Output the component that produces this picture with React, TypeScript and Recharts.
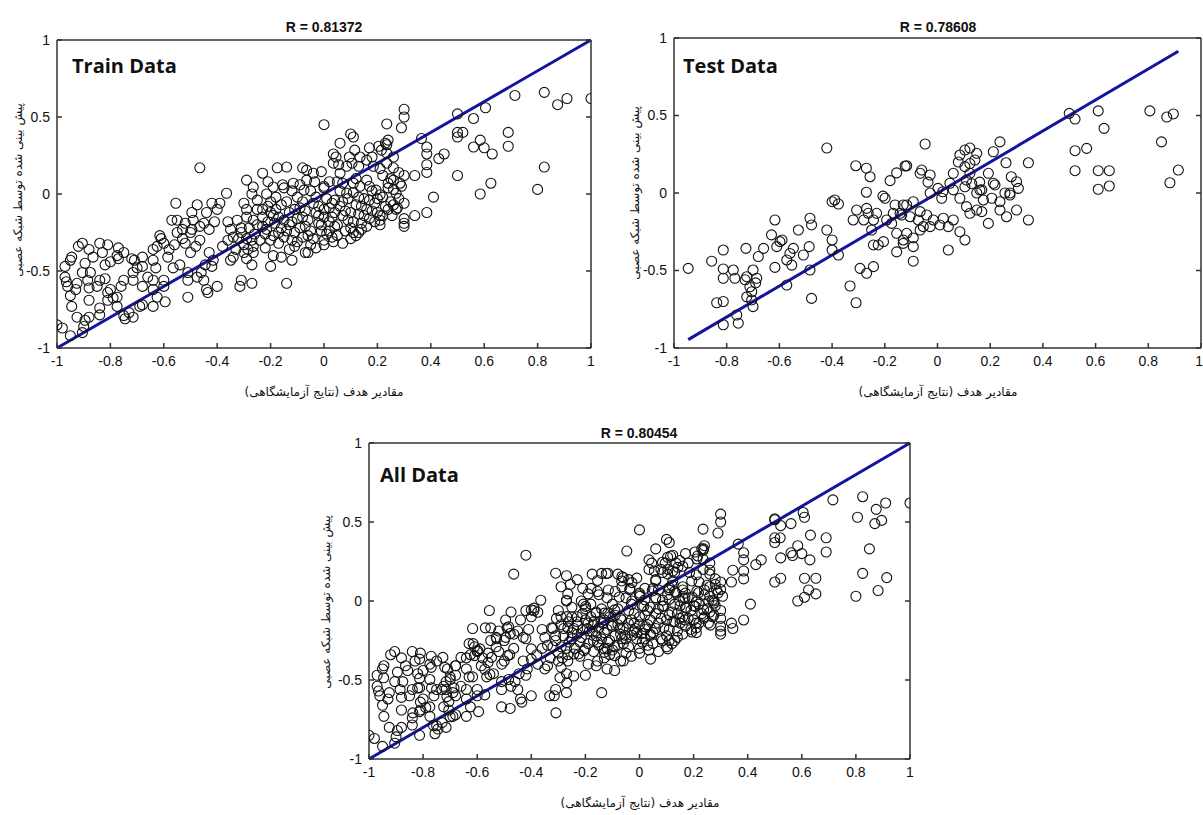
import { ScatterChart, Scatter, XAxis, YAxis, ReferenceLine } from "recharts";

// [target, network output] pairs
const trainPoints: number[][] = [
  [0.0, 0.45], [0.1, 0.39], [0.11, 0.37], [0.06, 0.33], [0.235, 0.455], [0.3, 0.55], [0.3, 0.5], [0.29, 0.43],
  [0.24, 0.35], [0.235, 0.32], [0.5, 0.52], [0.5, 0.4], [0.52, 0.4], [0.5, 0.37], [0.56, 0.49], [0.605, 0.56],
  [0.715, 0.64], [0.825, 0.66], [0.875, 0.58], [0.91, 0.62], [1.0, 0.62], [0.69, 0.4], [0.69, 0.31], [0.56, 0.305],
  [0.585, 0.35], [0.6, 0.3], [0.63, 0.26], [0.825, 0.175], [0.8, 0.03], [0.625, 0.07], [0.585, 0.0], [0.5, 0.12],
  [0.45, 0.26], [0.43, 0.23], [0.385, 0.305], [0.385, 0.26], [0.385, 0.19], [0.385, 0.14], [0.34, 0.12], [0.365, 0.36],
  [0.41, -0.02], [0.26, 0.17], [0.285, 0.07],
  [0.385, -0.12], [0.34, -0.14], [0.3, -0.16], [0.3, -0.19], [0.3, -0.21], [0.255, -0.14], [0.275, -0.09], [0.21, -0.17],
  [0.21, -0.14], [0.14, -0.23], [0.11, -0.25], [0.035, -0.31], [0.0, -0.33], [-0.07, -0.38],
  [-0.365, 0.005], [-0.555, -0.06], [-0.475, -0.07], [-0.495, -0.12], [-0.42, -0.06], [-0.39, -0.06], [-0.4, -0.1],
  [-0.57, -0.17], [-0.55, -0.17], [-0.49, -0.17], [-0.495, -0.23], [-0.44, -0.12], [-0.45, -0.19], [-0.41, -0.18],
  [-0.43, -0.23], [-0.36, -0.18], [-0.35, -0.23], [-0.34, -0.28], [-0.36, -0.3], [-0.38, -0.34], [-0.55, -0.25],
  [-0.53, -0.29], [-0.56, -0.33], [-0.58, -0.36], [-0.585, -0.41], [-0.565, -0.48], [-0.54, -0.46], [-0.615, -0.27],
  [-0.6, -0.32], [-0.625, -0.34], [-0.61, -0.29], [-0.64, -0.36], [-0.64, -0.43], [-0.63, -0.48], [-0.68, -0.41],
  [-0.68, -0.47], [-0.66, -0.54], [-0.64, -0.56], [-0.6, -0.56], [-0.6, -0.6], [-0.64, -0.62], [-0.625, -0.67],
  [-0.68, -0.6], [-0.64, -0.73], [-0.595, -0.7], [-0.72, -0.42], [-0.71, -0.43], [-0.7, -0.48], [-0.715, -0.51],
  [-0.715, -0.56], [-0.75, -0.56], [-0.76, -0.6], [-0.775, -0.67], [-0.775, -0.73], [-0.75, -0.79], [-0.745, -0.81],
  [-0.8, -0.62], [-0.79, -0.675], [-0.81, -0.69], [-0.84, -0.74], [-0.84, -0.785], [-0.77, -0.35], [-0.75, -0.38],
  [-0.775, -0.4], [-0.77, -0.42], [-0.84, -0.32], [-0.81, -0.33], [-0.83, -0.38], [-0.8, -0.44], [-0.82, -0.46],
  [-0.84, -0.56], [-0.85, -0.6], [-0.82, -0.55], [-0.81, -0.64], [-0.88, -0.36], [-0.865, -0.41], [-0.895, -0.45],
  [-0.875, -0.51], [-0.905, -0.51], [-0.885, -0.56], [-0.905, -0.32], [-0.92, -0.34], [-0.945, -0.41], [-0.95, -0.43],
  [-0.97, -0.47], [-0.97, -0.54], [-0.965, -0.57], [-0.96, -0.6], [-0.925, -0.58], [-0.93, -0.62], [-0.88, -0.61],
  [-0.88, -0.69], [-0.95, -0.66], [-0.945, -0.73], [-0.925, -0.8], [-0.895, -0.82], [-0.88, -0.8], [-0.9, -0.86],
  [-0.905, -0.9], [-1.0, -0.85], [-0.98, -0.87], [-0.95, -0.92], [-0.73, -0.77], [-0.715, -0.8], [-0.69, -0.73],
  [-0.68, -0.72], [-0.51, -0.51], [-0.51, -0.56], [-0.51, -0.67], [-0.475, -0.54], [-0.45, -0.56], [-0.44, -0.62],
  [-0.4, -0.6], [-0.435, -0.64], [-0.315, -0.6], [-0.27, -0.58], [-0.31, -0.56], [-0.14, -0.58], [-0.2, -0.47],
  [-0.16, -0.41], [-0.12, -0.43], [-0.29, -0.42], [-0.27, -0.46], [-0.265, -0.38], [-0.265, -0.34], [-0.285, -0.36],
  [-0.3, -0.33], [-0.34, -0.41], [-0.35, -0.43], [-0.32, -0.29], [-0.29, -0.29], [-0.31, -0.25], [-0.325, -0.17],
  [-0.29, -0.15], [-0.29, -0.1], [-0.3, -0.06], [-0.27, 0.0], [-0.25, -0.04], [-0.215, 0.0], [-0.19, 0.045],
  [-0.23, -0.1], [-0.265, -0.17], [-0.23, -0.21], [-0.215, -0.23], [-0.2, -0.12], [-0.185, -0.19], [-0.465, -0.21],
  [-0.465, -0.3], [-0.48, -0.34], [-0.5, -0.38], [-0.52, -0.32], [-0.53, -0.23], [-0.52, -0.19], [-0.5, -0.25],
  [-0.43, -0.38], [-0.415, -0.43], [-0.445, -0.46], [-0.46, -0.51], [-0.42, -0.47],
  [-0.465, 0.17], [-0.29, 0.09], [-0.23, 0.135], [-0.175, 0.17], [-0.14, 0.175], [-0.08, 0.17], [-0.04, 0.135],
  [-0.21, 0.08], [-0.265, 0.045], [-0.155, 0.06], [-0.115, 0.07], [-0.09, 0.06],
  [-0.065, 0.155], [-0.01, 0.145], [-0.065, 0.09], [-0.035, 0.08], [-0.075, 0.025], [0.0, 0.05], [0.02, 0.08],
  [0.035, 0.26], [0.045, 0.24], [0.035, 0.2], [0.055, 0.19], [0.06, 0.135], [0.085, 0.18], [0.105, 0.2], [0.095, 0.24],
  [0.115, 0.285], [0.135, 0.24], [0.13, 0.18], [0.16, 0.22], [0.17, 0.3], [0.205, 0.31], [0.215, 0.285], [0.23, 0.33],
  [0.18, 0.24], [0.185, 0.18], [0.21, 0.165], [0.235, 0.2], [0.26, 0.24], [0.235, 0.265], [0.26, 0.09], [0.24, 0.07],
  [0.16, 0.09], [0.17, 0.05], [0.195, 0.025], [0.07, 0.07], [0.11, 0.07], [0.135, 0.05], [0.085, 0.005], [0.27, 0.005],
  [0.21, -0.005],
  [-0.2, -0.05], [-0.18, -0.1], [-0.17, -0.15], [-0.16, -0.22], [-0.15, -0.28], [-0.14, -0.05], [-0.13, -0.12],
  [-0.12, -0.18], [-0.11, -0.25], [-0.1, -0.31], [-0.1, -0.02], [-0.09, -0.09], [-0.08, -0.15], [-0.07, -0.21],
  [-0.06, -0.27], [-0.05, -0.33], [-0.05, 0.02], [-0.04, -0.06], [-0.03, -0.12], [-0.02, -0.19], [-0.01, -0.24],
  [0.0, -0.3], [0.0, 0.04], [0.01, -0.03], [0.02, -0.09], [0.03, -0.15], [0.04, -0.21], [0.05, -0.27], [0.06, 0.02],
  [0.07, -0.05], [0.08, -0.11], [0.09, -0.17], [0.1, -0.22], [0.1, -0.29], [0.11, 0.01], [0.12, -0.07], [0.13, -0.13],
  [0.14, -0.19], [0.15, -0.03], [0.16, -0.1], [0.17, -0.16], [0.18, 0.02], [0.19, -0.06], [0.2, -0.12], [0.21, -0.2],
  [0.22, -0.02], [0.23, -0.08], [0.24, 0.04], [0.25, -0.05], [0.26, 0.03], [0.27, -0.1], [0.28, -0.03], [0.29, 0.05],
  [0.3, -0.06], [0.3, 0.12], [0.28, 0.14], [0.25, 0.1], [0.22, 0.12], [-0.19, -0.27], [-0.17, -0.32], [-0.13, -0.36],
  [-0.08, -0.28], [-0.12, 0.02], [-0.15, 0.04], [-0.21, -0.18], [-0.2, -0.3], [-0.06, -0.38], [0.02, -0.24],
  [0.07, -0.32], [0.13, -0.25], [0.05, 0.08], [0.12, 0.1], [-0.02, -0.08], [0.0, -0.15], [0.04, -0.04],
  [-0.28, -0.22], [-0.26, -0.26], [-0.24, -0.3], [-0.22, -0.26], [-0.25, -0.2], [-0.3, -0.38], [-0.22, -0.35],
  [-0.19, -0.4], [-0.33, -0.36], [-0.31, -0.22],
  [-0.18, -0.02], [-0.16, -0.07], [-0.15, -0.17], [-0.14, -0.24], [-0.12, -0.3], [-0.11, -0.1], [-0.1, -0.16],
  [-0.09, -0.22], [-0.08, -0.05], [-0.07, -0.11], [-0.06, -0.17], [-0.05, -0.24], [-0.04, -0.29], [-0.03, -0.02],
  [-0.02, -0.14], [-0.01, -0.2], [0.0, -0.1], [0.01, -0.26], [0.02, -0.18], [0.03, -0.06], [0.04, -0.12],
  [0.05, -0.2], [0.06, -0.08], [0.07, -0.14], [0.08, -0.24], [0.09, -0.03], [0.1, -0.12], [0.11, -0.18],
  [0.12, -0.27], [0.13, -0.02], [0.14, -0.08], [0.15, -0.14], [0.16, -0.21], [0.17, -0.04], [0.18, -0.11],
  [0.19, -0.18], [0.2, -0.03], [0.22, -0.14], [0.24, -0.1], [0.26, -0.07], [-0.13, -0.2], [-0.17, -0.25],
  [-0.19, -0.14], [-0.21, -0.08], [-0.23, -0.15], [-0.25, -0.1], [-0.27, -0.3], [-0.11, -0.34], [-0.03, -0.35],
  [0.03, -0.28],
];

const testPoints: number[][] = [
  [-0.42, 0.29], [-0.31, 0.176], [-0.27, 0.16], [-0.256, 0.105], [-0.27, 0.005], [-0.207, -0.02], [-0.18, 0.08],
  [-0.155, 0.13], [-0.123, 0.174], [-0.39, -0.045],
  [-0.117, 0.176], [-0.047, 0.316], [-0.066, 0.127], [-0.028, 0.116], [-0.06, 0.148], [-0.036, 0.07], [0.002, 0.03],
  [0.02, 0.008], [-0.028, 0.0], [0.06, 0.127], [0.104, 0.17], [0.123, 0.127], [0.11, 0.084], [0.13, 0.06],
  [0.16, 0.07], [0.193, 0.127], [0.085, 0.245], [0.104, 0.277], [0.123, 0.29], [0.149, 0.256], [0.142, 0.213],
  [0.123, 0.19], [0.079, 0.2], [0.237, 0.33], [0.212, 0.266], [0.26, 0.195], [0.28, 0.105], [0.3, 0.073],
  [0.168, 0.02], [0.212, 0.063], [0.345, 0.195], [0.275, 0.0], [0.256, 0.0], [0.149, 0.0], [0.06, 0.02],
  [0.5, 0.514], [0.522, 0.477], [0.61, 0.53], [0.632, 0.417], [0.522, 0.273], [0.566, 0.288], [0.522, 0.144],
  [0.61, 0.144], [0.652, 0.144], [0.61, 0.024], [0.652, 0.045], [0.806, 0.53], [0.87, 0.49], [0.895, 0.51],
  [0.85, 0.33], [0.914, 0.148], [0.882, 0.066],
  [-0.117, -0.077], [-0.092, -0.056], [-0.142, -0.131], [-0.104, -0.153], [-0.066, -0.12], [-0.041, -0.142],
  [-0.073, -0.174], [-0.028, -0.217], [-0.066, -0.239], [-0.117, -0.26], [-0.092, -0.29], [-0.13, -0.325],
  [-0.092, -0.346], [-0.054, -0.217], [-0.016, -0.174], [0.009, -0.206], [0.022, -0.163], [0.06, -0.174],
  [0.041, -0.217], [0.085, -0.25], [0.104, -0.303], [0.041, -0.368], [-0.092, -0.44],
  [0.085, -0.034], [0.11, -0.088], [0.123, -0.131], [0.149, -0.11], [0.168, -0.12], [0.174, -0.045], [0.161, 0.019],
  [0.218, 0.052], [0.206, -0.034], [0.237, -0.056], [0.237, -0.11], [0.262, -0.153], [0.275, -0.013], [0.307, 0.03],
  [0.3, -0.11], [0.193, -0.196], [0.345, -0.174], [0.104, 0.04], [0.047, 0.063], [0.016, -0.034],
  [-0.946, -0.486], [-0.857, -0.44], [-0.813, -0.368], [-0.813, -0.49], [-0.813, -0.55], [-0.775, -0.497],
  [-0.769, -0.55], [-0.724, -0.54], [-0.73, -0.56], [-0.7, -0.497], [-0.686, -0.55], [-0.69, -0.58], [-0.712, -0.605],
  [-0.705, -0.637], [-0.838, -0.708], [-0.813, -0.7], [-0.813, -0.85], [-0.762, -0.787], [-0.756, -0.84],
  [-0.724, -0.67], [-0.705, -0.69], [-0.7, -0.733], [-0.727, -0.357], [-0.68, -0.41], [-0.66, -0.357], [-0.617, -0.48],
  [-0.617, -0.174], [-0.63, -0.27], [-0.598, -0.314], [-0.59, -0.303], [-0.61, -0.346], [-0.56, -0.39],
  [-0.572, -0.432], [-0.547, -0.357], [-0.553, -0.465], [-0.528, -0.239], [-0.484, -0.163], [-0.478, -0.206],
  [-0.509, -0.4], [-0.484, -0.497], [-0.487, -0.346], [-0.478, -0.68], [-0.572, -0.594],
  [-0.42, -0.239], [-0.4, -0.303], [-0.4, -0.368], [-0.376, -0.4], [-0.4, -0.056], [-0.376, -0.071],
  [-0.332, -0.6], [-0.309, -0.708], [-0.294, -0.486], [-0.269, -0.518], [-0.243, -0.475],
  [-0.307, -0.11], [-0.32, -0.174], [-0.28, -0.174], [-0.269, -0.099], [-0.263, -0.131], [-0.243, -0.174],
  [-0.231, -0.131], [-0.25, -0.239], [-0.243, -0.335], [-0.225, -0.335], [-0.205, -0.314], [-0.193, -0.174],
  [-0.168, -0.131], [-0.161, -0.077], [-0.174, -0.196], [-0.155, -0.26], [-0.199, -0.034], [-0.13, -0.077],
  [-0.136, -0.142], [-0.13, -0.303], [-0.155, -0.38],
];

const allPoints = [...trainPoints, ...testPoints];

const xTicks = [-1, -0.8, -0.6, -0.4, -0.2, 0, 0.2, 0.4, 0.6, 0.8, 1];
const yTicks = [-1, -0.5, 0, 0.5, 1];

const xTitle = "مقادیر هدف (نتایج آزمایشگاهی)";
const yTitle = "پیش بینی شده توسط شبکه عصبی";

const tickFamily = "'Liberation Sans Narrow','Liberation Sans',Arial,sans-serif";
const tickFont = { fill: "#111", fontSize: 14, fontFamily: tickFamily };
const axisColor = "#333";
const lineColor = "#1414a0";

const Ring = (props: any) => (
  <circle cx={props.cx} cy={props.cy} r={5} fill="none" stroke="#111" strokeWidth={1.1} />
);

// bottom tick label; the last one is right-aligned when the panel reaches the page edge
const makeXTick = (clipRight: boolean) => (props: any) => {
  const { x, y, payload } = props;
  const last = clipRight && payload.value === 1;
  return (
    <text x={last ? x + 2 : x} y={y} dy="0.71em" textAnchor={last ? "end" : "middle"}
      fill="#111" fontSize={14} fontFamily={tickFamily}>
      {String(payload.value)}
    </text>
  );
};

type PanelProps = {
  points: number[][];
  left: number;
  top: number;
  width: number;
  height: number;
  margin: { top: number; right: number; bottom: number; left: number };
  clipRight?: boolean;
};

const Panel = ({ points, left, top, width, height, margin, clipRight = false }: PanelProps) => {
  const data = points.map(([x, y]) => ({ x, y }));
  const xs = points.map((p) => p[0]);
  const lo = Math.min(...xs);
  const hi = Math.max(...xs);
  return (
    <div style={{ position: "absolute", left, top }}>
      <ScatterChart width={width} height={height} margin={margin}>
        <XAxis xAxisId="b" type="number" dataKey="x" domain={[-1, 1]} ticks={xTicks} interval={0}
          allowDataOverflow tickSize={-5} tickMargin={13} height={30} tick={makeXTick(clipRight)}
          stroke={axisColor} strokeWidth={1.5} />
        <XAxis xAxisId="t" orientation="top" mirror type="number" domain={[-1, 1]} ticks={xTicks}
          interval={0} allowDataOverflow tickSize={5} stroke={axisColor} strokeWidth={1.5}
          tickFormatter={() => ""} />
        <YAxis yAxisId="l" type="number" dataKey="y" domain={[-1, 1]} ticks={yTicks} interval={0}
          allowDataOverflow tickSize={-5} tickMargin={12} width={40} tick={tickFont}
          stroke={axisColor} strokeWidth={1.5} tickFormatter={(v) => String(v)} />
        <YAxis yAxisId="r" orientation="right" mirror type="number" domain={[-1, 1]} ticks={yTicks}
          interval={0} allowDataOverflow tickSize={5} stroke={axisColor} strokeWidth={1.5}
          tickFormatter={() => ""} />
        <Scatter data={data} xAxisId="b" yAxisId="l" shape={Ring} isAnimationActive={false} />
        <ReferenceLine xAxisId="b" yAxisId="l" segment={[{ x: lo, y: lo }, { x: hi, y: hi }]}
          stroke={lineColor} strokeWidth={3} ifOverflow="visible" />
      </ScatterChart>
    </div>
  );
};

const textBase: React.CSSProperties = { position: "absolute", whiteSpace: "nowrap", color: "#111" };

const Title = ({ x, y, text }: { x: number; y: number; text: string }) => (
  <div style={{ ...textBase, left: x, top: y, transform: "translate(-50%,-50%)", fontFamily: "'Liberation Sans',Arial,sans-serif", fontWeight: 700, fontSize: 14 }}>
    {text}
  </div>
);

const Tag = ({ x, y, text }: { x: number; y: number; text: string }) => (
  <div style={{ ...textBase, left: x, top: y, transform: "translateY(-50%)", fontFamily: "'Open Sans',sans-serif", fontWeight: 700, fontSize: 20 }}>
    {text}
  </div>
);

const XTitle = ({ x, y }: { x: number; y: number }) => (
  <div dir="rtl" style={{ ...textBase, left: x, top: y, transform: "translate(-50%,-50%)", fontFamily: "'DejaVu Sans',sans-serif", fontSize: 12 }}>
    {xTitle}
  </div>
);

const YTitle = ({ x, y }: { x: number; y: number }) => (
  <div dir="rtl" style={{ ...textBase, left: x, top: y, transform: "translate(-50%,-50%) rotate(-90deg)", fontFamily: "'DejaVu Sans',sans-serif", fontSize: 12 }}>
    {yTitle}
  </div>
);

export default function App() {
  return (
    <div style={{ position: "absolute", left: 0, top: 0, width: 1203, height: 815, background: "#fff", overflow: "hidden" }}>
      <Panel points={trainPoints} left={0} top={0} width={600} height={400}
        margin={{ top: 40, right: 9, bottom: 22, left: 17 }} />
      <Panel points={testPoints} left={610} top={0} width={593} height={400}
        margin={{ top: 38, right: 2, bottom: 22, left: 24 }} clipRight />
      <Panel points={allPoints} left={300} top={420} width={620} height={395}
        margin={{ top: 23, right: 10, bottom: 26, left: 29 }} />

      <Title x={324} y={27} text="R = 0.81372" />
      <Title x={938} y={27} text="R = 0.78608" />
      <Title x={639} y={433} text="R = 0.80454" />

      <Tag x={72} y={65} text="Train Data" />
      <Tag x={683} y={65} text="Test Data" />
      <Tag x={380} y={474} text="All Data" />

      <XTitle x={324} y={392} />
      <XTitle x={938} y={392} />
      <XTitle x={640} y={803} />

      <YTitle x={18} y={190} />
      <YTitle x={635} y={193} />
      <YTitle x={326} y={602} />
    </div>
  );
}
